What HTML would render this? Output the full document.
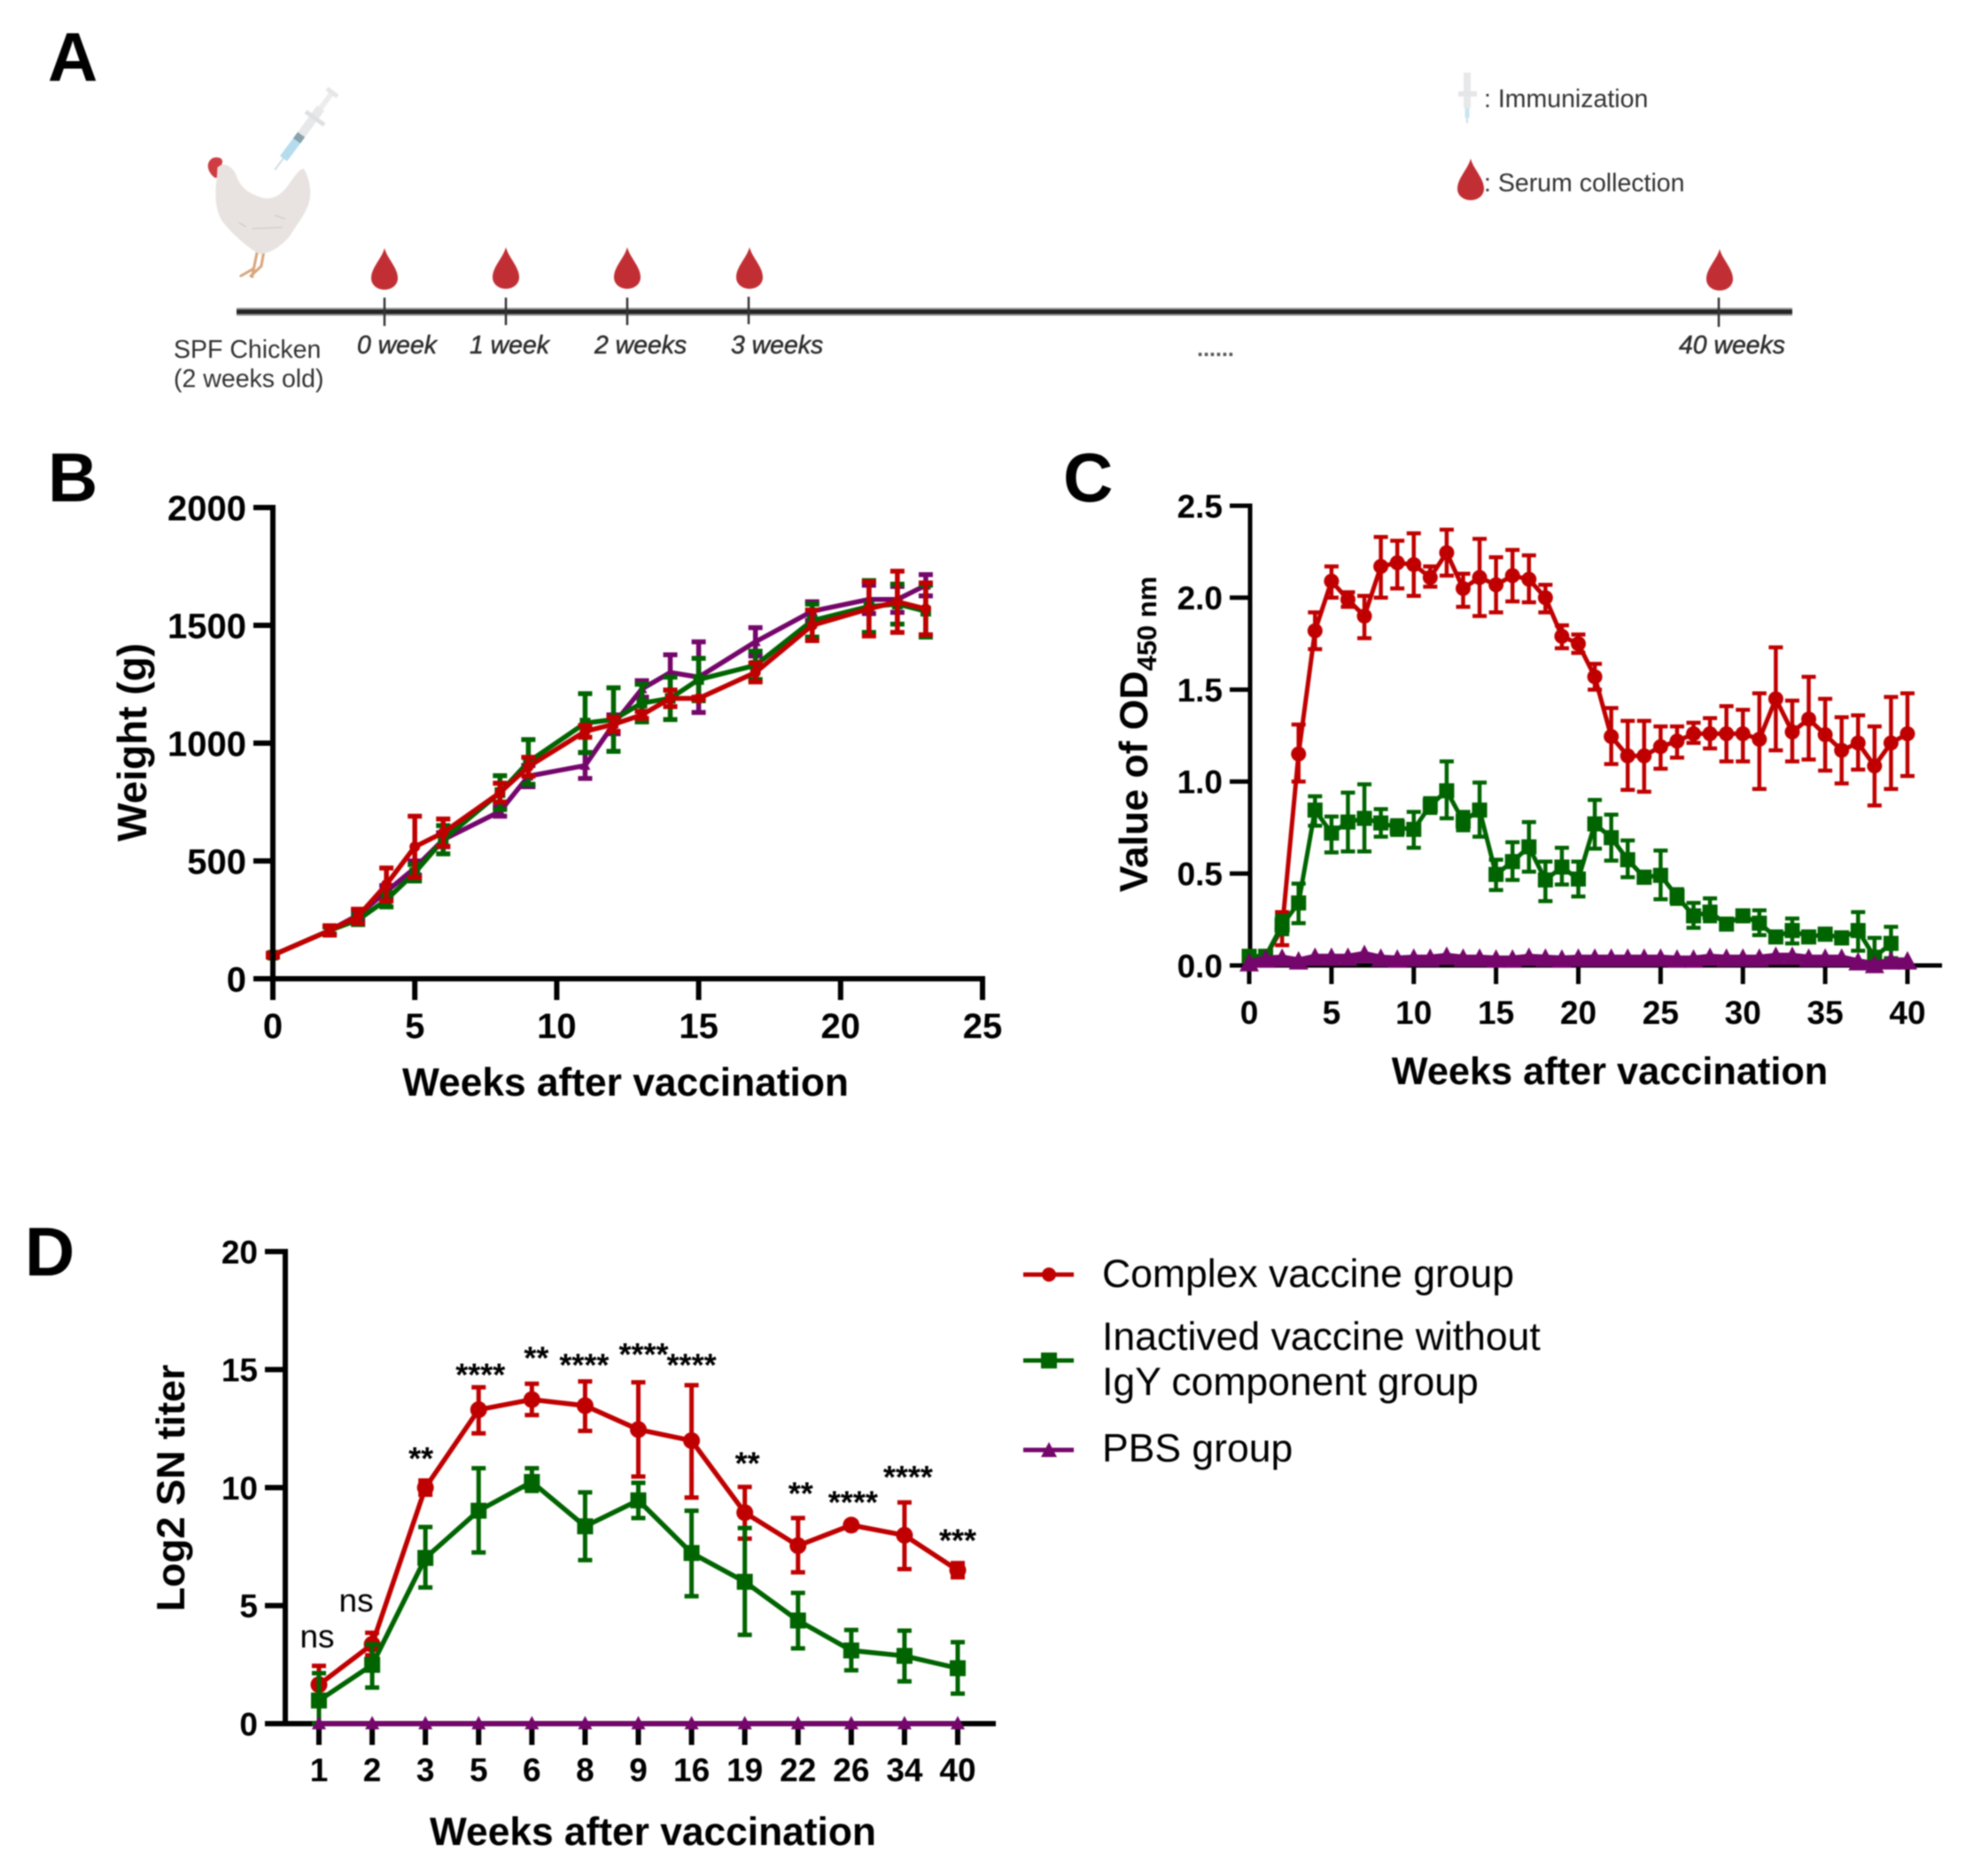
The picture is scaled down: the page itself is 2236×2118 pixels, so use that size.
<!DOCTYPE html>
<html lang="en">
<head>
<meta charset="utf-8">
<title>Vaccination study figure</title>
<style>
html,body{margin:0;padding:0;background:#fff;width:2236px;height:2118px;overflow:hidden}
svg{display:block;filter:blur(0.8px)}
text{font-family:"Liberation Sans",sans-serif;fill:#000}
.panel{font-weight:700;font-size:78px}
.axis-title{font-weight:700;font-size:44.3px}
.a-label{font-size:28.5px;fill:#333}
.a-week{font-size:28.4px;font-style:italic;fill:#2d2d2d;stroke:#2d2d2d;stroke-width:.5px}
.legend-text{font-size:44.5px}
</style>
</head>
<body>
<svg id="figure" xmlns="http://www.w3.org/2000/svg" width="2236" height="2118" viewBox="0 0 2236 2118">
  <rect width="2236" height="2118" fill="#fff"/>

  <text class="panel" x="54" y="91">A</text>
  <text class="panel" x="54" y="566">B</text>
  <text class="panel" x="1200" y="566">C</text>
  <text class="panel" x="28" y="1440">D</text>

  <g>
    <g transform="translate(200,130) scale(.339,.333)">
      <path d="M266 465 L255 520 L212 545 M288 465 L280 512 L245 545 M255 520 L250 548" fill="none" stroke="#d8a67c" stroke-width="9" stroke-linecap="round"/>
      <path d="M103 178 C100 160 112 143 130 143 C145 143 153 150 150 162 L145 175 L142 212 L125 212 C115 205 105 192 103 178 Z" fill="#cf3d43"/>
      <path d="M134 178 C150 160 178 165 195 200 C210 240 225 262 290 282 C335 285 355 260 385 215 C400 195 412 180 422 182 C445 225 448 265 438 300 C425 340 395 375 375 410 C350 440 320 465 275 472 C235 450 180 400 150 360 C125 320 125 260 132 215 Z" fill="#e8e3e0"/>
      <path d="M205 365 L230 378 M325 340 L360 352 M250 385 L350 380" stroke="#d6d0cc" stroke-width="5" fill="none"/>
    </g>
    <g fill="none">
      <line x1="310" y1="192" x2="322" y2="176" stroke="#d8dde0" stroke-width="2"/>
      <line x1="320" y1="179" x2="338" y2="155" stroke="#b4dcee" stroke-width="10"/>
      <line x1="338" y1="155" x2="362" y2="122" stroke="#e6e8ea" stroke-width="10"/>
      <line x1="335" y1="159" x2="340" y2="152" stroke="#8aa2ac" stroke-width="10"/>
      <line x1="362" y1="122" x2="376" y2="103" stroke="#ececec" stroke-width="6"/>
      <line x1="345" y1="126" x2="366" y2="141" stroke="#e0e0e0" stroke-width="5"/>
      <line x1="369" y1="100" x2="381" y2="109" stroke="#e6e6e6" stroke-width="5"/>
    </g>

    <line x1="267" y1="352" x2="2023" y2="352" stroke="#999" stroke-width="9"/>
    <line x1="267" y1="352" x2="2023" y2="352" stroke="#262626" stroke-width="5"/>

    <g stroke="#333" stroke-width="2.5">
      <line x1="434" y1="336" x2="434" y2="368"/>
      <line x1="571" y1="336" x2="571" y2="367"/>
      <line x1="708" y1="336" x2="708" y2="367"/>
      <line x1="845" y1="335" x2="845" y2="366"/>
      <line x1="1940" y1="336" x2="1940" y2="369"/>
    </g>

    <g fill="#c12f35">
      <path transform="translate(434,280)" d="M0 0 C3 12 15 22 15 34 C15 42 8 47 0 47 C-8 47 -15 42 -15 34 C-15 22 -3 12 0 0Z"/>
      <path transform="translate(571,279)" d="M0 0 C3 12 15 22 15 34 C15 42 8 47 0 47 C-8 47 -15 42 -15 34 C-15 22 -3 12 0 0Z"/>
      <path transform="translate(708,279)" d="M0 0 C3 12 15 22 15 34 C15 42 8 47 0 47 C-8 47 -15 42 -15 34 C-15 22 -3 12 0 0Z"/>
      <path transform="translate(846,279)" d="M0 0 C3 12 15 22 15 34 C15 42 8 47 0 47 C-8 47 -15 42 -15 34 C-15 22 -3 12 0 0Z"/>
      <path transform="translate(1941,281)" d="M0 0 C3 12 15 22 15 34 C15 42 8 47 0 47 C-8 47 -15 42 -15 34 C-15 22 -3 12 0 0Z"/>
      <path transform="translate(1660,179)" d="M0 0 C3 12 15 22 15 34 C15 42 8 47 0 47 C-8 47 -15 42 -15 34 C-15 22 -3 12 0 0Z"/>
    </g>

    <text class="a-label" x="196" y="404">SPF Chicken</text>
    <text class="a-label" x="196" y="437">(2 weeks old)</text>
    <text class="a-week" x="403" y="399">0 week</text>
    <text class="a-week" x="530" y="399">1 week</text>
    <text class="a-week" x="671" y="399">2 weeks</text>
    <text class="a-week" x="825" y="399">3 weeks</text>
    <text class="a-week" x="1895" y="399">40 weeks</text>
    <text x="1372" y="402" text-anchor="middle" font-size="25" font-weight="700" style="fill:#555">......</text>

    <g fill="none">
      <line x1="1656" y1="82" x2="1656" y2="122" stroke="#e6e8e9" stroke-width="8"/>
      <line x1="1646" y1="106" x2="1667" y2="106" stroke="#e4e6e7" stroke-width="6"/>
      <line x1="1656" y1="122" x2="1656" y2="133" stroke="#c8e6f2" stroke-width="5"/>
      <line x1="1656" y1="133" x2="1656" y2="139" stroke="#d5dcdf" stroke-width="2"/>
    </g>
    <text class="a-label" x="1675" y="121">: Immunization</text>
    <text class="a-label" x="1675" y="216">: Serum collection</text>
  </g>

  <g id="chart-b">
    <text class="axis-title" transform="translate(165,838) rotate(-90)" text-anchor="middle" style="font-size:46px">Weight (g)</text>
    <text class="axis-title" x="706" y="1237" text-anchor="middle">Weeks after vaccination</text>
  </g>

  <g id="chart-c">
    <text class="axis-title" transform="translate(1295,829) rotate(-90)" text-anchor="middle" style="font-size:44.5px">Value of OD<tspan font-size="31" dy="10">450 nm</tspan></text>
    <text class="axis-title" x="1817" y="1224" text-anchor="middle" style="font-size:43.3px">Weeks after vaccination</text>
  </g>

  <g id="chart-d">
    <text class="axis-title" transform="translate(208,1680) rotate(-90)" text-anchor="middle" style="font-size:44.8px">Log2 SN titer</text>
    <text class="axis-title" x="737" y="2083" text-anchor="middle">Weeks after vaccination</text>
  </g>

  <g>
    <g>
      <line x1="1155" y1="1439" x2="1212" y2="1439" stroke="#c00000" stroke-width="5"/>
      <circle cx="1184" cy="1439" r="8" fill="#c00000"/>
      <text class="legend-text" x="1244" y="1453">Complex vaccine group</text>
    </g>
    <g>
      <line x1="1155" y1="1536" x2="1212" y2="1536" stroke="#006400" stroke-width="5"/>
      <rect x="1175" y="1527" width="18" height="18" fill="#006400"/>
      <text class="legend-text" x="1244" y="1524">Inactived vaccine without</text>
      <text class="legend-text" x="1244" y="1575">IgY component group</text>
    </g>
    <g>
      <line x1="1155" y1="1637" x2="1212" y2="1637" stroke="#75066b" stroke-width="5"/>
      <polygon points="1184,1628 1193,1645 1175,1645" fill="#75066b"/>
      <text class="legend-text" x="1244" y="1650">PBS group</text>
    </g>
  </g>
</svg>

<script>
// ---------- Panel B: weight ----------
const bWeeks = [0,2,3,4,5,6,8,9,11,12,13,14,15,17,19,21,22,23];
const bRed = [100,205,265,400,560,620,790,900,1050,1080,1120,1190,1190,1300,1500,1570,1600,1570];
const bRedErr = [8,20,30,70,130,58,40,40,25,30,15,35,5,40,65,115,130,110];
const bGreen = [100,205,250,335,450,590,790,920,1085,1100,1170,1190,1270,1330,1520,1580,1590,1560];
const bGreenErr = [8,15,20,30,35,60,72,95,125,135,80,90,90,60,70,110,85,110];
const bPurple = [100,205,270,370,470,590,710,860,905,1080,1230,1300,1280,1430,1560,1610,1610,1670];
const bPurpleErr = [8,15,20,25,30,30,20,45,55,40,35,75,150,60,40,60,55,45];
const bXTicks = [0,5,10,15,20,25];
const bYTicks = [0,500,1000,1500,2000];

// ---------- Panel C: OD450 ----------
const cWeeks = [0,1,2,3,4,5,6,7,8,9,10,11,12,13,14,15,16,17,18,19,20,21,22,23,24,25,26,27,28,29,30,31,32,33,34,35,36,37,38,39,40];
const cRed = [0.05,0.05,0.2,1.15,1.82,2.09,1.99,1.9,2.17,2.19,2.18,2.11,2.245,2.05,2.11,2.07,2.12,2.1,2,1.79,1.75,1.57,1.245,1.14,1.14,1.19,1.22,1.26,1.26,1.26,1.26,1.23,1.45,1.27,1.34,1.255,1.17,1.21,1.085,1.21,1.26];
const cRedUpper = [0.06,0.06,0.29,1.31,1.92,2.17,2.03,2.01,2.33,2.31,2.35,2.17,2.37,2.13,2.32,2.22,2.26,2.23,2.07,1.85,1.8,1.64,1.4,1.33,1.33,1.3,1.3,1.32,1.345,1.41,1.39,1.48,1.73,1.44,1.57,1.45,1.35,1.36,1.3,1.46,1.48];
const cRedLower = [0.04,0.04,0.11,1,1.72,2,1.95,1.78,2,2.05,2.01,2.06,2.12,1.95,1.9,1.92,1.98,1.975,1.92,1.725,1.7,1.5,1.095,0.955,0.945,1.07,1.13,1.21,1.18,1.11,1.11,0.96,1.17,1.11,1.12,1.06,0.99,1.065,0.87,0.96,1.03];
const cGreen = [0.05,0.05,0.22,0.34,0.845,0.72,0.78,0.8,0.775,0.75,0.74,0.87,0.95,0.785,0.845,0.495,0.565,0.645,0.465,0.535,0.47,0.77,0.695,0.575,0.48,0.49,0.375,0.27,0.29,0.225,0.27,0.23,0.155,0.19,0.155,0.17,0.15,0.19,0.045,0.12];
const cGreenUpper = [0.06,0.06,0.27,0.445,0.92,0.81,0.94,0.985,0.85,0.79,0.835,0.91,1.11,0.835,0.995,0.575,0.67,0.78,0.565,0.64,0.565,0.9,0.82,0.68,0.51,0.625,0.415,0.34,0.365,0.245,0.29,0.3,0.175,0.255,0.175,0.2,0.18,0.29,0.15,0.21];
const cGreenLower = [0.04,0.04,0.17,0.23,0.76,0.615,0.62,0.62,0.7,0.71,0.64,0.83,0.8,0.735,0.7,0.41,0.465,0.51,0.35,0.44,0.375,0.635,0.57,0.48,0.45,0.36,0.335,0.205,0.24,0.205,0.25,0.165,0.135,0.12,0.135,0.14,0.12,0.08,0,0.04];
const cPurple = [0.01,0.03,0.035,0.02,0.04,0.04,0.04,0.055,0.035,0.03,0.035,0.035,0.045,0.035,0.035,0.03,0.03,0.04,0.035,0.03,0.035,0.035,0.035,0.035,0.035,0.035,0.03,0.03,0.04,0.035,0.035,0.035,0.045,0.045,0.035,0.035,0.035,0.015,0,0.02,0.02];
const cXTicks = [0,5,10,15,20,25,30,35,40];
const cYTicks = ['0.0','0.5','1.0','1.5','2.0','2.5'];

// ---------- Panel D: SN titer ----------
const dCategories = ['1','2','3','5','6','8','9','16','19','22','26','34','40'];
const dRed = [1.65,3.36,10,13.3,13.73,13.47,12.46,11.99,8.94,7.54,8.41,7.98,6.5];
const dRedUpper = [2.45,3.85,10.3,14.25,14.4,14.5,14.46,14.34,10.03,8.71,8.51,9.37,6.8];
const dRedLower = [1,2.9,9.7,12.3,13.07,12.4,10.47,9.58,7.84,6.41,8.31,6.55,6.2];
const dGreen = [0.98,2.49,7.02,9.02,10.24,8.36,9.46,7.23,6.01,4.37,3.1,2.87,2.35];
const dGreenUpper = [2.14,3.36,8.33,10.82,10.82,9.8,10.2,9.02,8.29,5.54,3.97,3.94,3.45];
const dGreenLower = [0,1.53,5.77,7.25,9.86,6.93,8.71,5.4,3.76,3.19,2.26,1.79,1.27];
const dPurple = [0,0,0,0,0,0,0,0,0,0,0,0,0];
const dYTicks = [0,5,10,15,20];
const dSignificance = ['ns','ns','**','****','**','****','****','****','**','**','****','****','***'];
const dSignificanceLevel = [3.68,5.19,11.45,15,15.7,15.4,15.85,15.4,11.24,9.96,9.58,10.65,7.97];

const NS = 'http://www.w3.org/2000/svg';
const RED = '#c00000', GREEN = '#006400', PURPLE = '#75066b';

// axis functions
const xB = w => 308 + w * (1109 - 308) / 25;
const yB = v => 1105 - v * (1105 - 573) / 2000;
const xC = w => 1410 + w * (2153 - 1410) / 40;
const yC = v => 1090 - v * (1090 - 571) / 2.5;
const xD = i => 360 + i * (1081 - 360) / 12;
const yD = v => 1946 - v * (1946 - 1413) / 20;

function mk(tag, attrs, parent) {
  const n = document.createElementNS(NS, tag);
  for (const k in attrs) n.setAttribute(k, attrs[k]);
  parent.appendChild(n);
  return n;
}

function drawAxes(root, prefix, cfg) {
  const axes = mk('g', {stroke: '#000', 'stroke-width': cfg.thick, fill: 'none'}, root);
  
  
  const yLine = mk('line', {x1: cfg.axisX, x2: cfg.axisX, y1: cfg.top - cfg.thick / 2, y2: cfg.axisY + cfg.thick / 2}, axes);
  
  
  const xLine = mk('line', {x1: cfg.axisX - cfg.yTick, x2: cfg.right, y1: cfg.axisY, y2: cfg.axisY}, axes);
  
  

  cfg.yTicks.forEach(t => {
    const y = cfg.y(Number(t));
    const tick = mk('line', {x1: cfg.axisX - cfg.yTick, x2: cfg.axisX, y1: y, y2: y}, axes);
    
    
    const label = mk('text', {x: cfg.yLabelX, y: y + cfg.font * 0.36, 'text-anchor': 'end', 'font-size': cfg.font, 'font-weight': 700, stroke: 'none'}, root);
    
    
    label.textContent = t;
  });
  cfg.xTicks.forEach((t, i) => {
    const x = cfg.x(t, i);
    const tick = mk('line', {x1: x, x2: x, y1: cfg.axisY, y2: cfg.axisY + cfg.xTick}, axes);
    
    
    const label = mk('text', {x: x, y: cfg.xLabelY, 'text-anchor': 'middle', 'font-size': cfg.font, 'font-weight': 700, stroke: 'none'}, root);
    
    
    label.textContent = t;
  });
}

function drawSeries(root, name, cfg) {
  const g = mk('g', {}, root);
  
  

  const pts = cfg.values.map((v, i) => cfg.x(i) + ',' + cfg.y(v)).join(' ');

  if (cfg.upper) {
    cfg.values.forEach((v, i) => {
      const x = cfg.x(i), yU = cfg.y(cfg.upper[i]), yL = cfg.y(cfg.lower[i]);
      const bar = mk('path', {
        d: 'M' + (x - cfg.cap) + ' ' + yU + 'H' + (x + cfg.cap) + 'M' + x + ' ' + yU + 'V' + yL + 'M' + (x - cfg.cap) + ' ' + yL + 'H' + (x + cfg.cap),
        fill: 'none', stroke: cfg.color, 'stroke-width': cfg.errWidth
      }, g);
      
      
    });
  }

  const line = mk('polyline', {points: pts, fill: 'none', stroke: cfg.color, 'stroke-width': cfg.lineWidth, 'stroke-linejoin': 'round'}, g);
  
  

  cfg.values.forEach((v, i) => {
    const x = cfg.x(i), y = cfg.y(v), s = cfg.size;
    let m;
    if (cfg.shape === 'circle') {
      m = mk('circle', {cx: x, cy: y, r: s, fill: cfg.color}, g);
    } else if (cfg.shape === 'square') {
      m = mk('rect', {x: x - s, y: y - s, width: 2 * s, height: 2 * s, fill: cfg.color}, g);
    } else {
      m = mk('polygon', {points: x + ',' + (y - s * 1.1) + ' ' + (x + s) + ',' + (y + s * 0.8) + ' ' + (x - s) + ',' + (y + s * 0.8), fill: cfg.color}, g);
    }
    
    
  });
}

function band(values, err, sign) {
  return values.map((v, i) => v + sign * err[i]);
}

// ----- draw B -----
const chartB = document.getElementById('chart-b');
const bCommon = {x: i => xB(bWeeks[i]), y: yB, cap: 8, errWidth: 5.5, lineWidth: 5.5, size: 6};
drawSeries(chartB, 'weight-pbs', Object.assign({}, bCommon, {values: bPurple, upper: band(bPurple, bPurpleErr, 1), lower: band(bPurple, bPurpleErr, -1), color: PURPLE, shape: 'triangle'}));
drawSeries(chartB, 'weight-inactivated', Object.assign({}, bCommon, {values: bGreen, upper: band(bGreen, bGreenErr, 1), lower: band(bGreen, bGreenErr, -1), color: GREEN, shape: 'square'}));
drawSeries(chartB, 'weight-complex', Object.assign({}, bCommon, {values: bRed, upper: band(bRed, bRedErr, 1), lower: band(bRed, bRedErr, -1), color: RED, shape: 'circle'}));
drawAxes(chartB, 'weight', {thick: 6, axisX: 308, axisY: 1105, top: 573, right: 1112, yTick: 22, xTick: 24, font: 40, yLabelX: 278, xLabelY: 1172, x: t => xB(t), y: yB, xTicks: bXTicks, yTicks: bYTicks});

// ----- draw C -----
const chartC = document.getElementById('chart-c');
drawAxes(chartC, 'od450', {thick: 5, axisX: 1411, axisY: 1090, top: 571, right: 2192, yTick: 23, xTick: 21, font: 37, yLabelX: 1380, xLabelY: 1156, x: t => xC(t), y: yC, xTicks: cXTicks, yTicks: cYTicks});
const cCommon = {x: i => xC(cWeeks[i]), y: yC, cap: 8, errWidth: 4.5, lineWidth: 5};
drawSeries(chartC, 'od450-complex', Object.assign({}, cCommon, {values: cRed, upper: cRedUpper, lower: cRedLower, color: RED, shape: 'circle', size: 8.5}));
drawSeries(chartC, 'od450-inactivated', Object.assign({}, cCommon, {values: cGreen, upper: cGreenUpper, lower: cGreenLower, color: GREEN, shape: 'square', size: 8.5}));
drawSeries(chartC, 'od450-pbs', Object.assign({}, cCommon, {values: cPurple, color: PURPLE, shape: 'triangle', size: 11, lineWidth: 10}));

// ----- draw D -----
const chartD = document.getElementById('chart-d');
drawAxes(chartD, 'sn-titer', {thick: 6, axisX: 322, axisY: 1946, top: 1413, right: 1124, yTick: 23, xTick: 24, font: 37, yLabelX: 291, xLabelY: 2011, x: (t, i) => xD(i), y: yD, xTicks: dCategories, yTicks: dYTicks});
const dCommon = {x: xD, y: yD, cap: 8, errWidth: 5, lineWidth: 5.5};
drawSeries(chartD, 'sn-titer-complex', Object.assign({}, dCommon, {values: dRed, upper: dRedUpper, lower: dRedLower, color: RED, shape: 'circle', size: 9.5}));
drawSeries(chartD, 'sn-titer-inactivated', Object.assign({}, dCommon, {values: dGreen, upper: dGreenUpper, lower: dGreenLower, color: GREEN, shape: 'square', size: 9}));
drawSeries(chartD, 'sn-titer-pbs', Object.assign({}, dCommon, {values: dPurple, color: PURPLE, shape: 'triangle', size: 8}));

// small horizontal label shifts (styling only, px)
const labelNudgePx = [-2,-18,-5,2,5,-1,6,0,3,3,2,4,0];
dSignificance.forEach((s, i) => {
  const isNs = s === 'ns';
  const y = yD(dSignificanceLevel[i]) + (isNs ? 12 : 18);
  const t = mk('text', {x: xD(i) + labelNudgePx[i], y: y, 'text-anchor': 'middle', 'font-size': isNs ? 37 : 36, 'font-weight': isNs ? 400 : 700}, chartD);
  
  
  t.textContent = s;
});
</script>
</body>
</html>
